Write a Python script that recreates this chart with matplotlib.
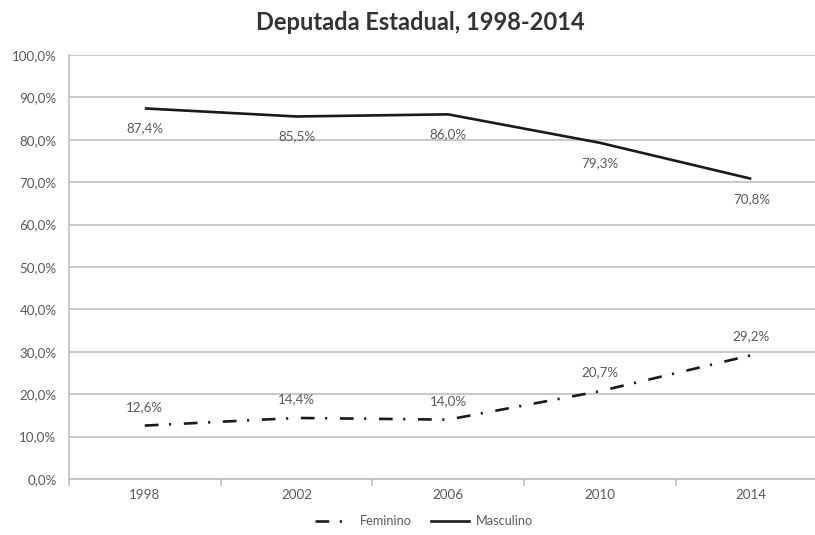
import matplotlib
matplotlib.use("Agg")
import matplotlib.pyplot as plt
from matplotlib.lines import Line2D

years = ["1998", "2002", "2006", "2010", "2014"]
feminino = [12.6, 14.4, 14.0, 20.7, 29.2]
masculino = [87.4, 85.5, 86.0, 79.3, 70.8]
y_ticks = [0, 10, 20, 30, 40, 50, 60, 70, 80, 90, 100]

plt.rcParams["font.family"] = ["Lato", "DejaVu Sans"]

W, H = 815, 535
fig = plt.figure(figsize=(W / 100, H / 100), dpi=100)
left, right, top, bottom = 69, 815, 55, 479
ax = fig.add_axes([left / W, 1 - bottom / H, (right - left) / W, (bottom - top) / H])

grid_c = "#bfbfbf"
text_c = "#595959"
fs = 9.6

x = list(range(len(years)))

ax.set_yticks(y_ticks)
ax.set_yticklabels([f"{v:.1f}%".replace(".", ",") for v in y_ticks])
ax.yaxis.grid(True, color=grid_c, linewidth=1.2)
ax.set_axisbelow(True)
ax.tick_params(axis="y", length=0, labelsize=fs, labelcolor=text_c, pad=9)

ax.set_xticks(x)
ax.set_xticklabels(years)
ax.set_xticks([i - 0.5 for i in range(len(years) + 1)], minor=True)
ax.tick_params(axis="x", which="major", length=0, labelsize=fs, labelcolor=text_c, pad=7)
ax.tick_params(axis="x", which="minor", length=5, color=grid_c, width=1.2)

ax.set_xlim(-0.5, 4.42)
ax.set_ylim(0, 100)

for s in ["top", "right"]:
    ax.spines[s].set_visible(False)
ax.spines["left"].set_color(grid_c)
ax.spines["bottom"].set_color(grid_c)
ax.spines["left"].set_linewidth(1.2)
ax.spines["bottom"].set_linewidth(1.2)

dashdot = (0, (5.2, 4.0, 0.8, 4.8))
ax.plot(x, feminino, color="#1a1a1a", lw=1.9, linestyle=dashdot, dash_capstyle="butt")
ax.plot(x, masculino, color="#1a1a1a", lw=1.9, solid_capstyle="butt")

for xi, v in zip(x, feminino):
    ax.annotate(f"{v:.1f}%".replace(".", ","), (xi, v), xytext=(0, 13.5),
                textcoords="offset points", ha="center", va="center",
                fontsize=fs, color=text_c)
for xi, v in zip(x, masculino):
    ax.annotate(f"{v:.1f}%".replace(".", ","), (xi, v), xytext=(0, -14.5),
                textcoords="offset points", ha="center", va="center",
                fontsize=fs, color=text_c)

fig.text(420 / W, 1 - 22 / H, "Deputada Estadual, 1998-2014", ha="center", va="center",
         fontsize=17, fontweight="bold", color="#333333")

handles = [
    Line2D([0], [0], color="#1a1a1a", lw=1.9, linestyle=dashdot),
    Line2D([0], [0], color="#1a1a1a", lw=1.9),
]
fig.legend(handles, ["Feminino", "Masculino"], loc="center", bbox_to_anchor=(424 / W, 1 - 521 / H),
           ncol=2, frameon=False, fontsize=9.2, labelcolor=text_c, handlelength=3.0,
           columnspacing=1.5, handletextpad=0.5)

fig.savefig("out.png", dpi=100)
